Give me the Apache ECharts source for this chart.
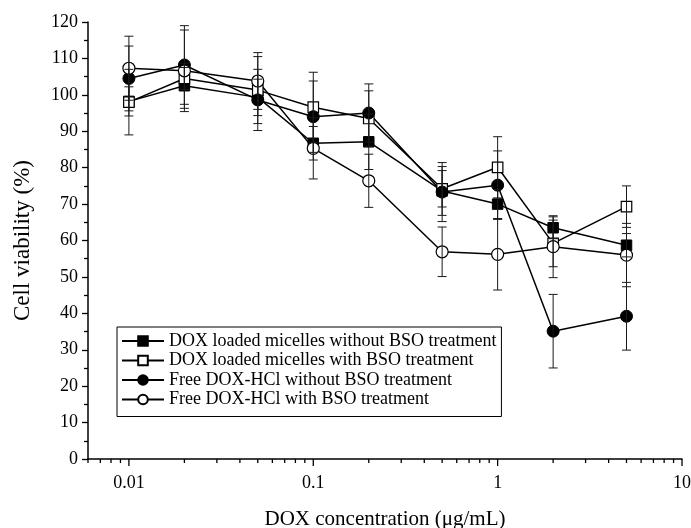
<!DOCTYPE html>
<html><head><meta charset="utf-8">
<script src="https://cdn.jsdelivr.net/npm/echarts@6/dist/echarts.min.js"></script>
<style>html,body{margin:0;padding:0;background:#fff}#c{width:691px;height:528px}</style>
</head><body><div id="c"></div>
<script>
// ---- data ----
const concentrations = [0.01, 0.02, 0.05, 0.1, 0.2, 0.5, 1, 2, 5];
const seriesNames = [
  'DOX loaded micelles without BSO treatment',
  'DOX loaded micelles with BSO treatment',
  'Free DOX-HCl without BSO treatment',
  'Free DOX-HCl with BSO treatment'
];
const micNoBSO    = [98.2, 102.5, 99.3, 86.7, 87.1, 73.6, 70.0, 63.5, 58.7];
const micNoBSOErr = [4.0, 6.2, 5.0, 4.6, 7.6, 6.7, 4.0, 3.0, 3.2];
const micBSO      = [98.0, 104.5, 101.3, 96.6, 93.5, 74.2, 80.1, 59.2, 69.3];
const micBSOErr   = [9.0, 3.0, 9.2, 9.6, 7.6, 5.0, 8.4, 6.4, 5.7];
const freeNoBSO   = [104.5, 108.2, 98.6, 94.0, 95.0, 73.3, 75.2, 35.1, 39.2];
const freeNoBSOErr= [8.9, 10.8, 8.4, 9.8, 8.0, 8.1, 9.4, 10.1, 9.3];
const freeBSO     = [107.3, 106.6, 103.8, 85.3, 76.4, 56.9, 56.2, 58.3, 56.0];
const freeBSOErr  = [8.8, 11.2, 7.8, 8.4, 7.3, 6.8, 9.8, 8.5, 8.7];
const xMajorTicks = [0.01, 0.1, 1, 10];
const xMinorTicks = [0.006, 0.007, 0.008, 0.009,
  0.02, 0.03, 0.04, 0.05, 0.06, 0.07, 0.08, 0.09,
  0.2, 0.3, 0.4, 0.5, 0.6, 0.7, 0.8, 0.9,
  2, 3, 4, 5, 6, 7, 8, 9];

// ---- chart ----
const FONT = 'Liberation Serif';
const chart = echarts.init(document.getElementById('c'), null, {renderer: 'canvas'});

function lineSeries(name, vals, symbol, size, filled) {
  return {
    name, type: 'line', z: 2,
    data: concentrations.map((c, i) => [c, vals[i]]),
    symbol, symbolSize: size,
    lineStyle: {color: '#000', width: 1.5},
    itemStyle: filled ? {color: '#000', borderColor: '#000', borderWidth: 1}
                      : {color: '#fff', borderColor: '#000', borderWidth: 1.2},
    emphasis: {disabled: true}
  };
}
function errSeries(vals, errs) {
  return {
    type: 'custom', clip: false, z: 4, silent: true,
    data: concentrations.map((c, i) => [c, vals[i], errs[i]]),
    encode: {x: 0, y: 1},
    renderItem: (params, api) => {
      const x = api.value(0), y = api.value(1), e = api.value(2);
      const t = api.coord([x, y + e]), b = api.coord([x, y - e]);
      const w = 4.5, st = {stroke: '#1a1a1a', lineWidth: 1};
      return {type: 'group', children: [
        {type: 'line', shape: {x1: t[0], y1: t[1], x2: b[0], y2: b[1]}, style: st},
        {type: 'line', shape: {x1: t[0] - w, y1: t[1], x2: t[0] + w, y2: t[1]}, style: st},
        {type: 'line', shape: {x1: b[0] - w, y1: b[1], x2: b[0] + w, y2: b[1]}, style: st}
      ]};
    }
  };
}
function tickSeries(ticks, len) {
  return {
    type: 'custom', clip: false, z: 5, silent: true,
    data: ticks.map(v => [v, 0]),
    encode: {x: 0, y: 1},
    renderItem: (params, api) => {
      const p = api.coord([api.value(0), 0]);
      return {type: 'line', shape: {x1: p[0], y1: p[1], x2: p[0], y2: p[1] + len},
              style: {stroke: '#000', lineWidth: 1.3}};
    }
  };
}
const isPow10 = v => Math.abs(Math.log10(v) - Math.round(Math.log10(v))) < 1e-6;

chart.setOption({
  animation: false,
  backgroundColor: '#fff',
  grid: {left: 88, right: 9, top: 22, bottom: 69, outerBoundsMode: 'none', containLabel: false},
  legend: {
    orient: 'vertical', left: 117, top: 327,
    itemWidth: 42, itemHeight: 12, itemGap: 1.5,
    padding: [5, 5, 8, 4],
    borderColor: '#000', borderWidth: 1, borderRadius: 0, backgroundColor: '#fff',
    textStyle: {fontFamily: FONT, fontSize: 18, color: '#000'},
    data: seriesNames, selectedMode: false
  },
  xAxis: {
    type: 'log', logBase: 10, min: 0.006, max: 10,
    name: 'DOX concentration (\u03bcg/mL)', nameLocation: 'middle', nameGap: 50,
    nameTextStyle: {fontFamily: FONT, fontSize: 21, color: '#000'},
    axisLine: {show: true, onZero: false, lineStyle: {color: '#000', width: 1.5}},
    axisTick: {show: false}, minorTick: {show: false},
    splitLine: {show: false},
    axisLabel: {fontFamily: FONT, fontSize: 18, color: '#000', margin: 15,
      formatter: v => isPow10(v) ? String(+v.toPrecision(6)) : ''}
  },
  yAxis: {
    type: 'value', min: 0, max: 120, interval: 10,
    name: 'Cell viability (%)', nameLocation: 'middle', nameGap: 54,
    nameTextStyle: {fontFamily: FONT, fontSize: 23, color: '#000'},
    axisLine: {show: true, lineStyle: {color: '#000', width: 1.5}},
    axisTick: {show: true, inside: false, length: 6, lineStyle: {color: '#000', width: 1.3}},
    minorTick: {show: true, splitNumber: 2, length: 4, lineStyle: {color: '#000', width: 1.3}},
    splitLine: {show: false},
    axisLabel: {fontFamily: FONT, fontSize: 18, color: '#000', margin: 10}
  },
  series: [
    lineSeries(seriesNames[0], micNoBSO, 'rect', 10.5, true),
    lineSeries(seriesNames[1], micBSO, 'rect', 10.5, false),
    lineSeries(seriesNames[2], freeNoBSO, 'circle', 12, true),
    lineSeries(seriesNames[3], freeBSO, 'circle', 12, false),
    errSeries(micNoBSO, micNoBSOErr),
    errSeries(micBSO, micBSOErr),
    errSeries(freeNoBSO, freeNoBSOErr),
    errSeries(freeBSO, freeBSOErr),
    tickSeries(xMajorTicks, 7),
    tickSeries(xMinorTicks, 4)
  ]
});
</script>
</body></html>
